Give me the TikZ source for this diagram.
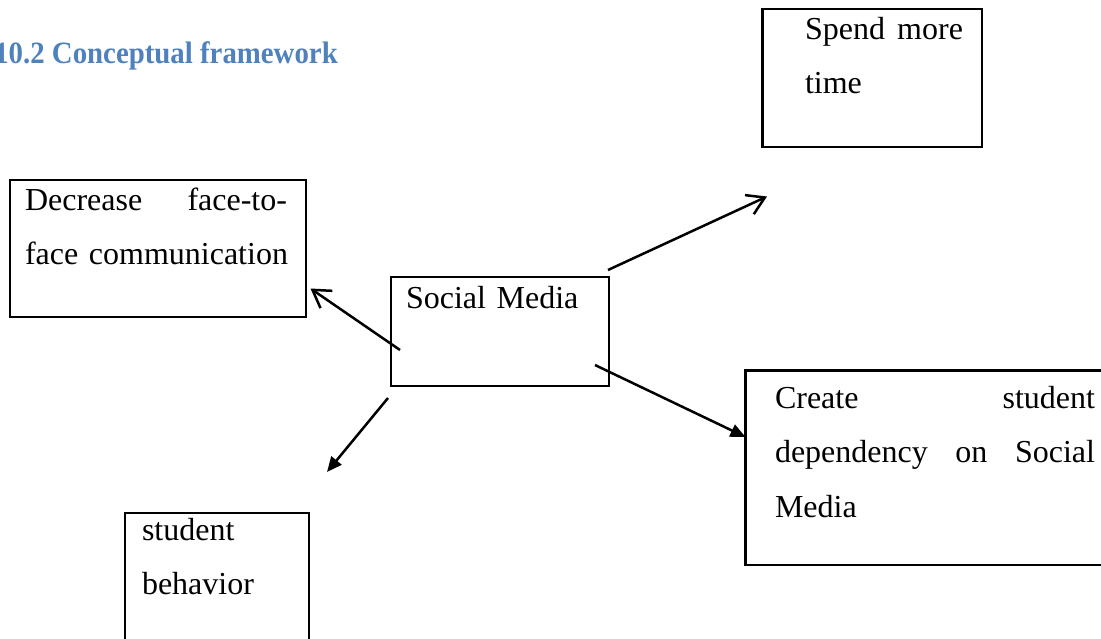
\documentclass[tikz,border=0pt]{standalone}
\usepackage{fontspec}
\setmainfont{Liberation Serif}
\newfontfamily\headfont{Liberation Serif}[FakeStretch=0.93]
\usetikzlibrary{arrows.meta}
\definecolor{headblue}{HTML}{4F81BD}
\begin{document}
\begin{tikzpicture}[x=1pt,y=-1pt,
  box/.style={draw=black, line width=2.4pt, inner sep=0pt, outer sep=0pt, anchor=north west},
  txt/.style={inner sep=0pt, outer sep=0pt, anchor=base west, align=left,
              font=\fontsize{32}{54.5}\selectfont},
  head/.style={inner sep=0pt, anchor=base east, text=headblue,
               font=\headfont\fontsize{31}{36}\selectfont\bfseries},
  openarrow/.style={line width=2.5pt, -{Straight Barb[length=17pt,width=21pt]}},
  fillarrow/.style={line width=2.5pt, -{Triangle[length=15pt,width=13pt]}}]
\useasboundingbox (0,0) rectangle (1101,638);
\clip (0,0) rectangle (1101,638);

% heading
\node[head] (title) at (338,63) {10.2 Conceptual framework};

% boxes
\node[box, minimum width=219.5pt, minimum height=138pt] (spend) at (762.5,9) {};
\node[box, minimum width=296pt, minimum height=137pt] (decrease) at (10,180) {};
\node[box, minimum width=218pt, minimum height=109pt] (social) at (391,277) {};
\node[box, minimum width=370pt, minimum height=194.5pt] (create) at (745.5,370.5) {};
\node[box, minimum width=184pt, minimum height=140pt] (student) at (125,513) {};

% box texts
\node[txt, text width=158pt] (spend-t) at (805,39) {Spend\hfill more\\time};
\node[txt, text width=262pt] (decrease-t) at (25,210) {Decrease\hfill face-to-\\\mbox{face communication}};
\node[txt, text width=200pt] (social-t) at (406,308) {Social Media};
\node[txt, text width=320pt] (create-t) at (775,408) {Create\hfill student\\dependency\hfill on\hfill Social\\Media};
\node[txt, text width=160pt] (student-t) at (142,540) {student\\behavior};

% connector end points
\coordinate (sm-left) at (400,350);
\coordinate (sm-top) at (608,270);
\coordinate (sm-right) at (595,365);
\coordinate (sm-bottom) at (388,398);
\coordinate (dec-end) at (310.5,288.5);
\coordinate (spend-end) at (767,196.5);
\coordinate (create-end) at (745.5,437);
\coordinate (student-end) at (327,472);

% connectors
\draw[openarrow] (sm-left) -- (dec-end);
\draw[openarrow] (sm-top) -- (spend-end);
\draw[fillarrow] (sm-right) -- (create-end);
\draw[fillarrow] (sm-bottom) -- (student-end);
\end{tikzpicture}
\end{document}
